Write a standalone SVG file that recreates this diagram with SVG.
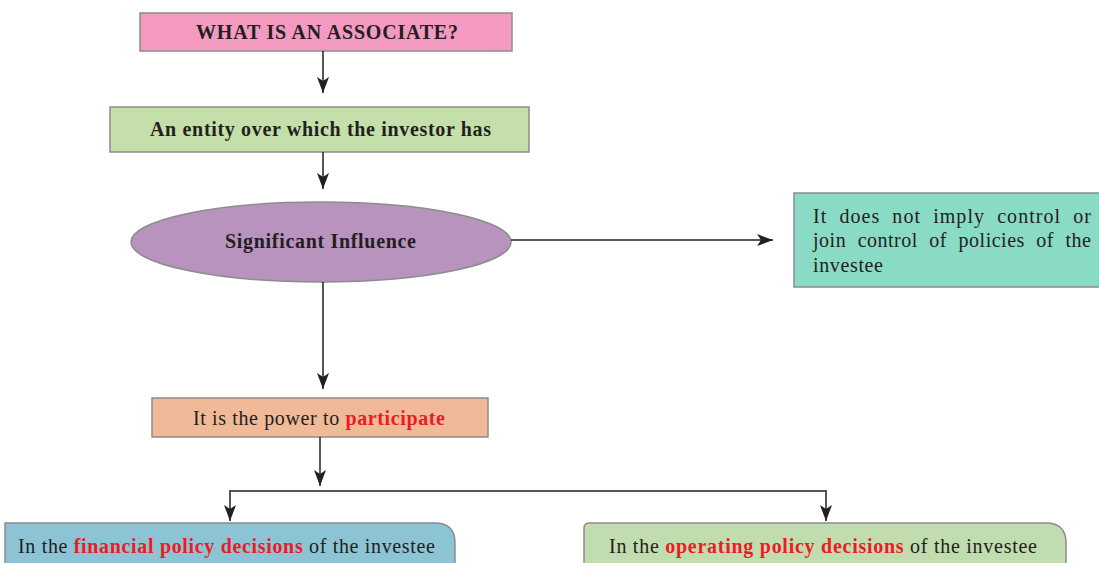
<svg xmlns="http://www.w3.org/2000/svg" width="1099" height="563" viewBox="0 0 1099 563">
<style>
.box{stroke:#8c8c8c;stroke-width:1.5}
.t{font-family:"Liberation Serif","Times New Roman",serif;font-size:20px;fill:#231f20}
.b{font-weight:bold}
.r{fill:#ed1c24;font-weight:bold}
.j{word-spacing:6px}
.ln{stroke:#231f20;stroke-width:1.5;fill:none}
</style>
<defs>
<marker id="ah" markerWidth="16" markerHeight="12" refX="16" refY="6" orient="auto" markerUnits="userSpaceOnUse">
<path d="M0,0 L16,6 L0,12 L4,6 Z" fill="#231f20"/>
</marker>
</defs>
<g id="n1">
<rect class="box" x="140" y="13" width="372" height="38" fill="#f49ac1"/>
<text class="t b" x="196" y="39" textLength="262" lengthAdjust="spacing">WHAT IS AN ASSOCIATE?</text>
</g>
<g id="n2">
<rect class="box" x="110" y="107" width="419" height="45" fill="#c4dfaa"/>
<text class="t b" x="150" y="136" textLength="341" lengthAdjust="spacing">An entity over which the investor has</text>
</g>
<g id="n3">
<ellipse class="box" cx="321" cy="242" rx="190" ry="40" fill="#b793be"/>
<text class="t b" x="225" y="248" textLength="191" lengthAdjust="spacing">Significant Influence</text>
</g>
<g id="n4">
<rect class="box" x="794" y="193" width="310" height="94" fill="#8adbc5"/>
<text class="t j" x="813" y="223" textLength="278" lengthAdjust="spacing">It does not imply control or</text>
<text class="t j" x="813" y="247" textLength="278" lengthAdjust="spacing">join control of policies of the</text>
<text class="t" x="813" y="272" textLength="70" lengthAdjust="spacing">investee</text>
</g>
<g id="n5">
<rect class="box" x="152" y="398" width="336" height="39" fill="#f0b997"/>
<text class="t" x="193" y="425" textLength="252" lengthAdjust="spacing">It is the power to <tspan class="r">participate</tspan></text>
</g>
<g id="n6">
<path class="box" d="M5,570 L5,523 L435,523 Q455,523 455,543 L455,570 Z" fill="#8cc3d5"/>
<text class="t" x="18" y="553" textLength="417" lengthAdjust="spacing">In the <tspan class="r">financial policy decisions</tspan> of the investee</text>
</g>
<g id="n7">
<path class="box" d="M584,570 L584,528 Q584,523 590,523 L1046,523 Q1066,523 1066,543 L1066,570 Z" fill="#c1dcaf"/>
<text class="t" x="609" y="553" textLength="428" lengthAdjust="spacing">In the <tspan class="r">operating policy decisions</tspan> of the investee</text>
</g>
<g id="connectors">
<line class="ln" x1="323" y1="51" x2="323" y2="93" marker-end="url(#ah)"/>
<line class="ln" x1="323" y1="152" x2="323" y2="189" marker-end="url(#ah)"/>
<line class="ln" x1="511" y1="240" x2="773" y2="240" marker-end="url(#ah)"/>
<line class="ln" x1="323" y1="282" x2="323" y2="389" marker-end="url(#ah)"/>
<line class="ln" x1="320" y1="437" x2="320" y2="486" marker-end="url(#ah)"/>
<polyline class="ln" points="528,491 230,491 230,521" marker-end="url(#ah)"/>
<polyline class="ln" points="528,491 826,491 826,521" marker-end="url(#ah)"/>
</g>
</svg>
